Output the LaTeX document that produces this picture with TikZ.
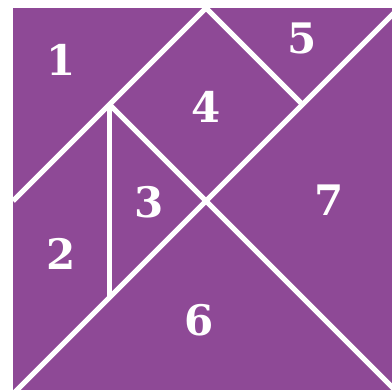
\documentclass[tikz,border=0pt]{standalone}
\usepackage{fontspec}
\setmainfont{DejaVu Serif}
\definecolor{tanpurple}{RGB}{142,73,150}
\begin{document}
\begin{tikzpicture}[x=1pt,y=1pt,
  cut/.style={draw=white,line width=5pt},
  num/.style={text=white,font=\fontsize{42}{42}\selectfont\bfseries,inner sep=0pt}]
\useasboundingbox (0,0) rectangle (392,390);
\clip (0,0) rectangle (392,390);
\fill[tanpurple] (13,-4) rectangle (399,382);
\coordinate (TL) at (13,382);
\coordinate (TR) at (399,382);
\coordinate (BL) at (13,-4);
\coordinate (BR) at (399,-4);
\coordinate (C) at (206,189);
\coordinate (L) at (13,189);
\coordinate (T) at (206,382);
\coordinate (P1) at (109.5,285.5);
\coordinate (P2) at (302.5,285.5);
\coordinate (P3) at (109.5,92.5);
\draw[cut] (L) -- (T);
\draw[cut] (BL) -- (TR);
\draw[cut] (C) -- (BR);
\draw[cut] (P1) -- (C);
\draw[cut] (P1) -- (P3);
\draw[cut] (T) -- (P2);
\node[num] (n1) at (61,330) {1};
\node[num] (n2) at (61,136.5) {2};
\node[num] (n3) at (149,187.5) {3};
\node[num] (n4) at (206,283) {4};
\node[num] (n5) at (302,352) {5};
\node[num] (n6) at (199,70) {6};
\node[num] (n7) at (329.5,190) {7};
\end{tikzpicture}
\end{document}
